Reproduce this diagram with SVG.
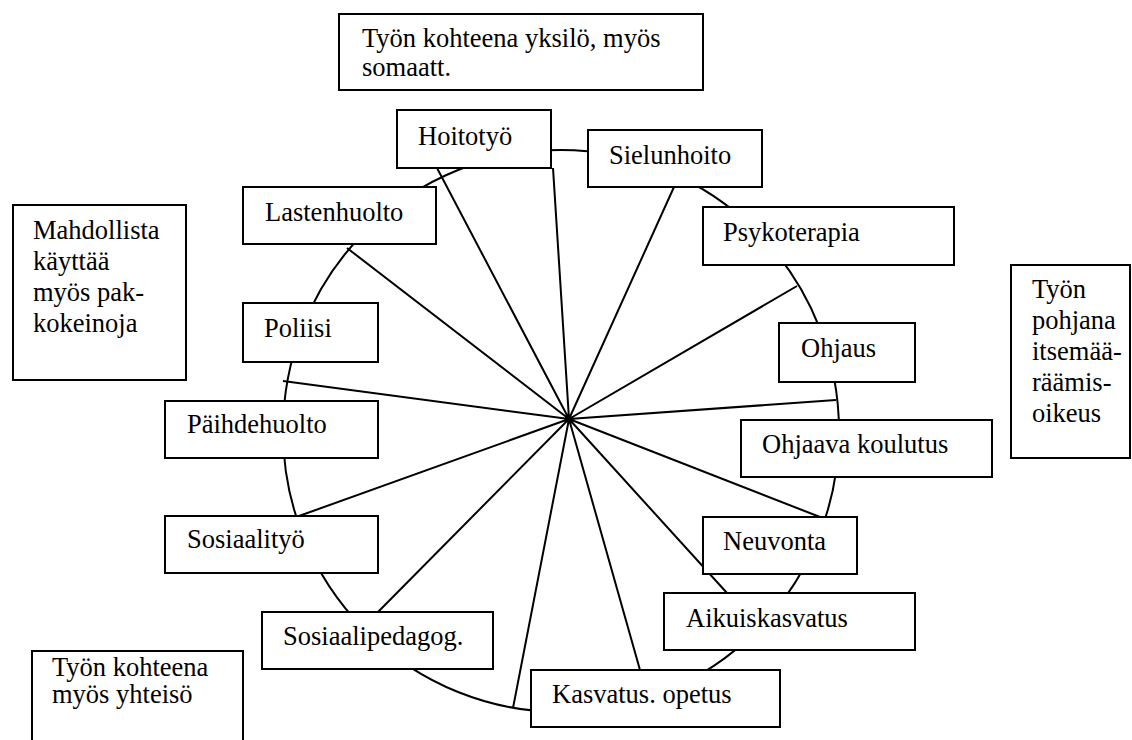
<svg xmlns="http://www.w3.org/2000/svg" width="1132" height="740" viewBox="0 0 1132 740">
<style>
.box{fill:#fff;stroke:#000;stroke-width:2}
.t{font-family:"Liberation Serif","Times New Roman",serif;font-size:26.5px;fill:#000}
.ln{stroke:#000;stroke-width:2;fill:none}
</style>
<rect width="1132" height="740" fill="#fff"/>
<g id="connectors">
<ellipse class="ln" cx="561" cy="431" rx="278" ry="281"/>
<path class="ln" d="M569,419L437,168M569,419L553,168M569,419L674,187M569,419L797,286M569,419L836,400M569,419L820,517M569,419L727,593M569,419L640,670M569,419L513,708M569,419L378,612M569,419L299,516M569,419L283,381M569,419L347,248"/>
</g>
<g id="top-note"><rect class="box" x="339" y="14" width="364" height="76"/><text class="t" x="362" y="47">Työn kohteena yksilö, myös</text><text class="t" x="362" y="76">somaatt.</text></g>
<g id="left-note"><rect class="box" x="13" y="205" width="173" height="175"/><text class="t" x="33" y="239">Mahdollista</text><text class="t" x="33" y="270">käyttää</text><text class="t" x="33" y="301">myös pak-</text><text class="t" x="33" y="332">kokeinoja</text></g>
<g id="right-note"><rect class="box" x="1011" y="265" width="119" height="193"/><text class="t" x="1032" y="298">Työn</text><text class="t" x="1032" y="329">pohjana</text><text class="t" x="1032" y="360">itsemää-</text><text class="t" x="1032" y="391">räämis-</text><text class="t" x="1032" y="422">oikeus</text></g>
<g id="bottom-note"><rect class="box" x="32" y="651" width="211" height="100"/><text class="t" x="52" y="676">Työn kohteena</text><text class="t" x="52" y="703">myös yhteisö</text></g>
<g id="hoitotyo"><rect class="box" x="397" y="110" width="154" height="58"/><text class="t" x="418" y="145">Hoitotyö</text></g>
<g id="sielunhoito"><rect class="box" x="588" y="130" width="174" height="57"/><text class="t" x="609" y="164">Sielunhoito</text></g>
<g id="psykoterapia"><rect class="box" x="703" y="207" width="251" height="58"/><text class="t" x="723" y="241">Psykoterapia</text></g>
<g id="ohjaus"><rect class="box" x="779" y="323" width="136" height="59"/><text class="t" x="801" y="357">Ohjaus</text></g>
<g id="ohjaava-koulutus"><rect class="box" x="741" y="420" width="251" height="57"/><text class="t" x="762" y="453">Ohjaava koulutus</text></g>
<g id="neuvonta"><rect class="box" x="703" y="517" width="154" height="57"/><text class="t" x="723" y="550">Neuvonta</text></g>
<g id="aikuiskasvatus"><rect class="box" x="664" y="593" width="251" height="57"/><text class="t" x="686" y="627">Aikuiskasvatus</text></g>
<g id="kasvatus-opetus"><rect class="box" x="531" y="670" width="249" height="57"/><text class="t" x="552" y="703">Kasvatus. opetus</text></g>
<g id="sosiaalipedagog"><rect class="box" x="262" y="612" width="231" height="57"/><text class="t" x="283" y="645">Sosiaalipedagog.</text></g>
<g id="sosiaalityo"><rect class="box" x="165" y="516" width="213" height="57"/><text class="t" x="187" y="548">Sosiaalityö</text></g>
<g id="paihdehuolto"><rect class="box" x="165" y="401" width="213" height="57"/><text class="t" x="187" y="433">Päihdehuolto</text></g>
<g id="poliisi"><rect class="box" x="243" y="303" width="135" height="59"/><text class="t" x="264" y="337">Poliisi</text></g>
<g id="lastenhuolto"><rect class="box" x="243" y="187" width="193" height="57"/><text class="t" x="265" y="221">Lastenhuolto</text></g>
</svg>
